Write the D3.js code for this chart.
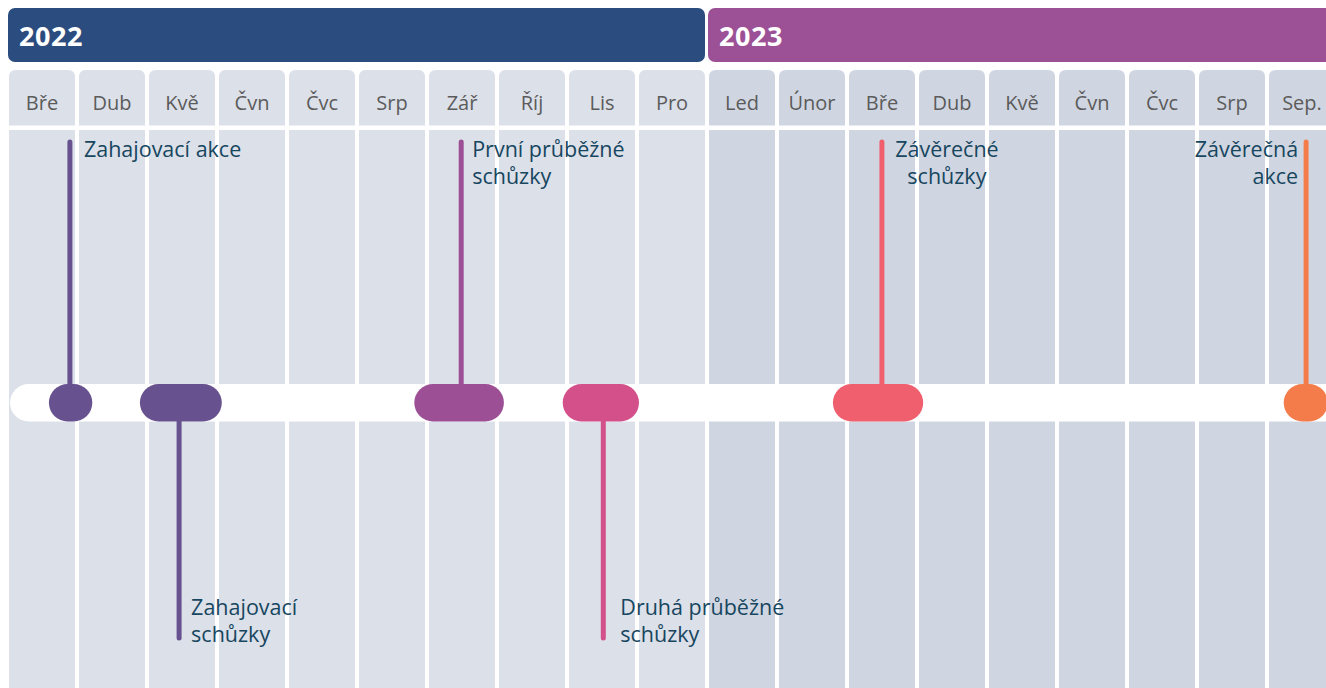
<!DOCTYPE html>
<html>
<head>
<meta charset="utf-8">
<script src="https://cdn.jsdelivr.net/npm/d3@7"></script>
<style>
  body { margin: 0; background: #fff; overflow: hidden; }
</style>
</head>
<body>
<div id="chart"></div>
<script>
// data
const months = ['Bře','Dub','Kvě','Čvn','Čvc','Srp','Zář','Říj','Lis','Pro',
                'Led','Únor','Bře','Dub','Kvě','Čvn','Čvc','Srp','Sep.'];
const years = ['2022', '2023'];
const yearStart = [0, 10];   // month index where each year begins
const yearEnd = [10, 19];

// events, positions in month units (0 = start of Mar 2022)
const eventLabels = [
  ['Zahajovací akce'],
  ['Zahajovací', 'schůzky'],
  ['První průběžné', 'schůzky'],
  ['Druhá průběžné', 'schůzky'],
  ['Závěrečné', 'schůzky'],
  ['Závěrečná', 'akce']
];
const eventStart = [0.57, 1.87, 5.79, 7.91, 11.77, 18.21];
const eventEnd   = [1.19, 3.04, 7.07, 9.00, 13.06, 18.84];
const eventMark  = [0.87, 2.43, 6.46, 8.49, 12.47, 18.53];

// layout per event
const eventSide   = ['up', 'down', 'up', 'down', 'up', 'up'];
const eventAnchor = ['start', 'start', 'start', 'start', 'middle', 'end'];
const eventDx     = [14, 12, 11, 17, 65, -8];
const eventColors = ['#67518f', '#67518f', '#9c4f95', '#d4508a', '#f05f6e', '#f47c4a'];
const yearColors  = ['#2b4c7e', '#9c5095'];

const width = 1326, height = 688;

const x = d3.scaleLinear().domain([0, months.length]).range([9, 9 + months.length * 70]);
const cellW = 66;

const svg = d3.select('#chart').append('svg')
    .attr('width', width)
    .attr('height', height)
    .style('font-family', '"Open Sans", sans-serif');

// year header bars
svg.append('g').selectAll('rect')
    .data(years)
    .join('rect')
    .attr('x', (d, i) => x(yearStart[i]) - 1)
    .attr('y', 8)
    .attr('width', (d, i) => x(yearEnd[i]) - x(yearStart[i]) - 3)
    .attr('height', 54)
    .attr('rx', 7)
    .attr('fill', (d, i) => yearColors[i]);

svg.append('g').selectAll('text')
    .data(years)
    .join('text')
    .attr('x', (d, i) => x(yearStart[i]) + 10)
    .attr('y', 46)
    .attr('fill', '#fff')
    .attr('font-size', 27)
    .attr('font-weight', 700)
    .attr('letter-spacing', 0.6)
    .text(d => d);

// month columns
const cellFill = i => i < 10 ? '#dce0e9' : '#d0d6e1';

function topRounded(x0, y0, w, h, r) {
  return `M${x0},${y0 + h}V${y0 + r}Q${x0},${y0} ${x0 + r},${y0}H${x0 + w - r}` +
         `Q${x0 + w},${y0} ${x0 + w},${y0 + r}V${y0 + h}Z`;
}

const cols = svg.append('g').selectAll('g')
    .data(months)
    .join('g');

cols.append('path')
    .attr('d', (d, i) => topRounded(x(i), 70, cellW, 55.5, 7))
    .attr('fill', (d, i) => cellFill(i));

cols.append('rect')
    .attr('x', (d, i) => x(i))
    .attr('y', 130)
    .attr('width', cellW)
    .attr('height', height - 130)
    .attr('fill', (d, i) => cellFill(i));

cols.append('text')
    .attr('x', (d, i) => x(i) + cellW / 2)
    .attr('y', 110)
    .attr('text-anchor', 'middle')
    .attr('font-size', 20)
    .attr('fill', '#5b5b5b')
    .text(d => d);

// white track
const trackY = 384, trackH = 37.5;
svg.append('rect')
    .attr('x', 10)
    .attr('y', trackY)
    .attr('width', width + 40)
    .attr('height', trackH)
    .attr('rx', trackH / 2)
    .attr('fill', '#fff');

// events
const ev = svg.append('g').selectAll('g')
    .data(eventLabels)
    .join('g');

ev.append('line')
    .attr('x1', (d, i) => x(eventMark[i]))
    .attr('x2', (d, i) => x(eventMark[i]))
    .attr('y1', trackY + trackH / 2)
    .attr('y2', (d, i) => eventSide[i] === 'up' ? 142 : 638)
    .attr('stroke', (d, i) => eventColors[i])
    .attr('stroke-width', 5)
    .attr('stroke-linecap', 'round');

ev.append('rect')
    .attr('x', (d, i) => x(eventStart[i]))
    .attr('y', trackY)
    .attr('width', (d, i) => x(eventEnd[i]) - x(eventStart[i]))
    .attr('height', trackH)
    .attr('rx', trackH / 2)
    .attr('fill', (d, i) => eventColors[i]);

ev.append('text')
    .attr('x', (d, i) => x(eventMark[i]) + eventDx[i])
    .attr('y', (d, i) => eventSide[i] === 'up' ? 157 : 615)
    .attr('text-anchor', (d, i) => eventAnchor[i])
    .attr('font-size', 21.5)
    .attr('fill', '#17465f')
    .each(function(d, i) {
      d3.select(this).selectAll('tspan')
        .data(d)
        .join('tspan')
        .attr('x', x(eventMark[i]) + eventDx[i])
        .attr('dy', (t, j) => j === 0 ? 0 : 27)
        .text(t => t);
    });
</script>
</body>
</html>
